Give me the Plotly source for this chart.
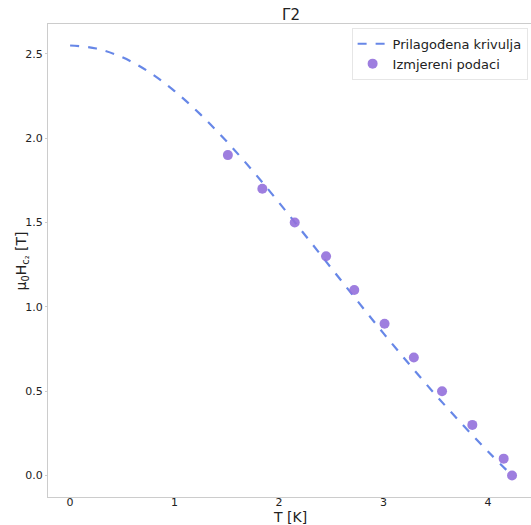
import plotly.graph_objects as go

# Measured data
T_meas = [1.51, 1.84, 2.15, 2.45, 2.72, 3.01, 3.29, 3.56, 3.85, 4.15, 4.23]
H_meas = [1.9, 1.7, 1.5, 1.3, 1.1, 0.9, 0.7, 0.5, 0.3, 0.1, 0.0]

# Fitted curve
T_fit = [0.0, 0.25, 0.5, 0.75, 1.0, 1.25, 1.5, 1.75, 2.0, 2.25, 2.5, 2.75,
         3.0, 3.25, 3.5, 3.75, 4.0, 4.23]
H_fit = [2.55, 2.532, 2.480, 2.395, 2.280, 2.140, 1.980, 1.805, 1.618, 1.425,
         1.230, 1.035, 0.843, 0.657, 0.477, 0.306, 0.142, 0.0]

x_ticks = [0, 1, 2, 3, 4]
y_ticks = [0.0, 0.5, 1.0, 1.5, 2.0, 2.5]

FONT = "DejaVu Sans"

fig = go.Figure()
fig.add_trace(go.Scatter(
    x=T_fit, y=H_fit, mode="lines", line_shape="spline",
    name="Prilagođena krivulja",
    line=dict(color="rgba(65,105,225,0.8)", width=2.2, dash="dash"),
))
fig.add_trace(go.Scatter(
    x=T_meas, y=H_meas, mode="markers", name="Izmjereni podaci",
    marker=dict(color="rgba(147,112,219,0.9)", size=10, line=dict(width=0)),
))

fig.update_layout(
    width=531, height=525,
    margin=dict(l=48, r=0, t=24, b=28),
    paper_bgcolor="white", plot_bgcolor="white",
    font=dict(family=FONT, color="#222"),
    title=dict(text="Γ2", x=0.548, xanchor="center", y=0.971, yanchor="middle",
               font=dict(size=15, family=FONT, color="#222")),
    showlegend=True,
    legend=dict(x=0.993, xanchor="right", y=0.992, yanchor="top",
                bgcolor="rgba(255,255,255,0.9)", bordercolor="#e6e6e6", borderwidth=1,
                font=dict(size=13, family=FONT, color="#222"),
                tracegroupgap=0, itemwidth=30),
    xaxis=dict(range=[-0.2115, 4.4115], tickvals=x_ticks, ticktext=[str(v) for v in x_ticks],
               showgrid=False, zeroline=False, showline=True, linecolor="#cccccc", linewidth=1,
               mirror=True, ticks="outside", ticklen=2, tickcolor="#cccccc",
               ticklabelstandoff=-7,
               tickfont=dict(size=11, family=FONT, color="#222")),
    yaxis=dict(range=[-0.1275, 2.6775], tickvals=y_ticks, tickformat=".1f",
               showgrid=False, zeroline=False, showline=True, linecolor="#cccccc", linewidth=1,
               ticks="outside", ticklen=2, tickcolor="#cccccc",
               tickfont=dict(size=11, family=FONT, color="#222")),
    annotations=[
        dict(text="T [K]", xref="paper", yref="paper", x=0.5, y=-0.042,
             xanchor="center", yanchor="middle", showarrow=False,
             font=dict(size=14, family=FONT, color="#222")),
        dict(text="μ<sub>0</sub>H<sub>c₂</sub> [T]", xref="paper", yref="paper",
             x=-0.054, y=0.5, xanchor="center", yanchor="middle", textangle=-90,
             showarrow=False, font=dict(size=14, family=FONT, color="#222")),
    ],
)

fig.write_html("out.html", config={"displayModeBar": False},
               post_script="document.body.style.margin='0';document.body.style.overflow='hidden';")
